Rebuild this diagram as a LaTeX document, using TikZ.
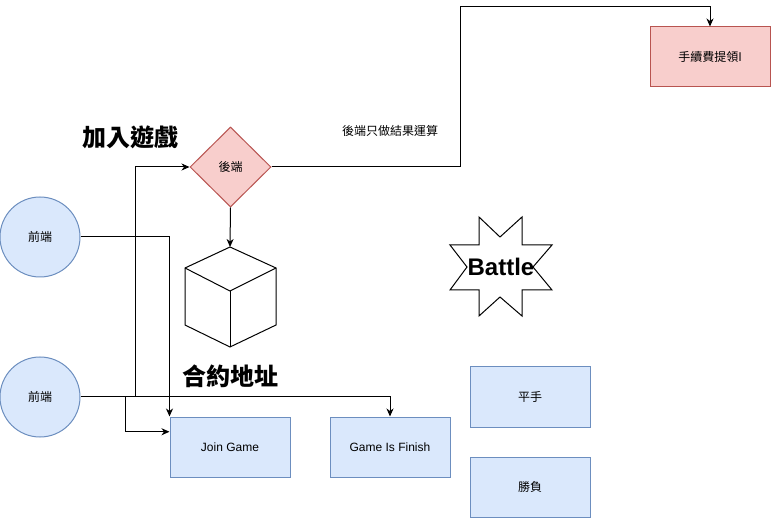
\documentclass[tikz,border=0pt]{standalone}
\usepackage{fontspec}
\setmainfont{Liberation Sans}
\newfontfamily\cjk{Noto Sans CJK TC}
\usetikzlibrary{shapes.geometric,arrows.meta,calc}
\definecolor{bfill}{HTML}{DAE8FC}
\definecolor{bstroke}{HTML}{6C8EBF}
\definecolor{rfill}{HTML}{F8CECC}
\definecolor{rstroke}{HTML}{B85450}
\begin{document}
\begin{tikzpicture}[x=1pt,y=-1pt,line width=1pt,
  bluebox/.style={draw=bstroke,fill=bfill,rectangle,minimum width=120pt,minimum height=60pt,inner sep=0pt,font=\fontsize{12}{14}\selectfont},
  redbox/.style={draw=rstroke,fill=rfill,rectangle,minimum width=120pt,minimum height=60pt,inner sep=0pt,font=\cjk\fontsize{12}{14}\selectfont},
  bluecirc/.style={draw=bstroke,fill=bfill,circle,minimum size=80pt,inner sep=0pt,font=\cjk\fontsize{12}{14}\selectfont},
  reddia/.style={draw=rstroke,fill=rfill,diamond,minimum width=81pt,minimum height=80pt,inner sep=0pt,font=\cjk\fontsize{12}{14}\selectfont},
  bigtitle/.style={font=\cjk\bfseries\fontsize{24}{28}\selectfont,inner sep=0pt},
  smalltext/.style={font=\cjk\fontsize{12}{14}\selectfont,inner sep=0pt},
  conn/.style={draw=black,line width=1pt,-{Stealth[length=8pt,width=7pt,inset=2.5pt]}},
  plain/.style={draw=black,line width=1pt},
  shapeline/.style={draw=black,line width=1pt,fill=white,line join=miter}]
\fill[white] (0,0) rectangle (771,518);
\useasboundingbox (0,0) rectangle (771,518);

% nodes
\node[bluecirc] (f1) at (40,237) {前端};
\node[bluecirc] (f2) at (40,397) {前端};
\node[reddia] (be) at (230.5,167) {後端};
\node[redbox] (fee) at (710,57) {手續費提領I};
\node[bluebox] (jg) at (230,447) {Join Game};
\node[bluebox] (gf) at (390,447) {Game Is Finish};
\node[bluebox,font=\cjk\fontsize{12}{14}\selectfont] (draw) at (530,397) {平手};
\node[bluebox,font=\cjk\fontsize{12}{14}\selectfont] (win) at (530,487) {勝負};
\node[bigtitle] (t1) at (130,137) {加入遊戲};
\node[bigtitle] (t2) at (230,376) {合約地址};
\node[smalltext] (t3) at (390,131) {後端只做結果運算};

% cube
\coordinate (cubetop) at (230,247);
\path[shapeline] (230,247) -- (276,268) -- (276,325) -- (230,347) -- (185,325) -- (185,268) -- cycle;
\draw[plain,line join=miter] (185,268) -- (230,291) -- (276,268);
\draw[plain] (230,291) -- (230,347);

% star
\path[shapeline] (479,217) -- (500,237) -- (522,217) -- (522,245) -- (552,245) -- (533,267)
  -- (552,290) -- (522,290) -- (522,316) -- (500,297) -- (479,316) -- (479,290)
  -- (450,290) -- (467,267) -- (450,245) -- (479,245) -- cycle;
\node[font=\bfseries\fontsize{24}{28}\selectfont,inner sep=0pt] (battle) at (501,267) {Battle};

% connectors
\coordinate (jgin) at ($(jg.north west)!0.25!(jg.south west)$);
\coordinate (turnA) at (125,397);
\coordinate (turnB) at (135,397);
\coordinate (turnC) at (460,167);
\coordinate (turnD) at (460,7);
\draw[conn] (f1.east) -| (jg.north west);
\draw[conn] (f2.east) -| (gf.north);
\draw[conn] (turnA) |- (jgin);
\draw[conn] (turnB) |- (be.west);
\draw[conn] (be.east) -- (turnC) -- (turnD) -| (fee.north);
\draw[conn] (be.south) -- (cubetop);
\end{tikzpicture}
\end{document}
